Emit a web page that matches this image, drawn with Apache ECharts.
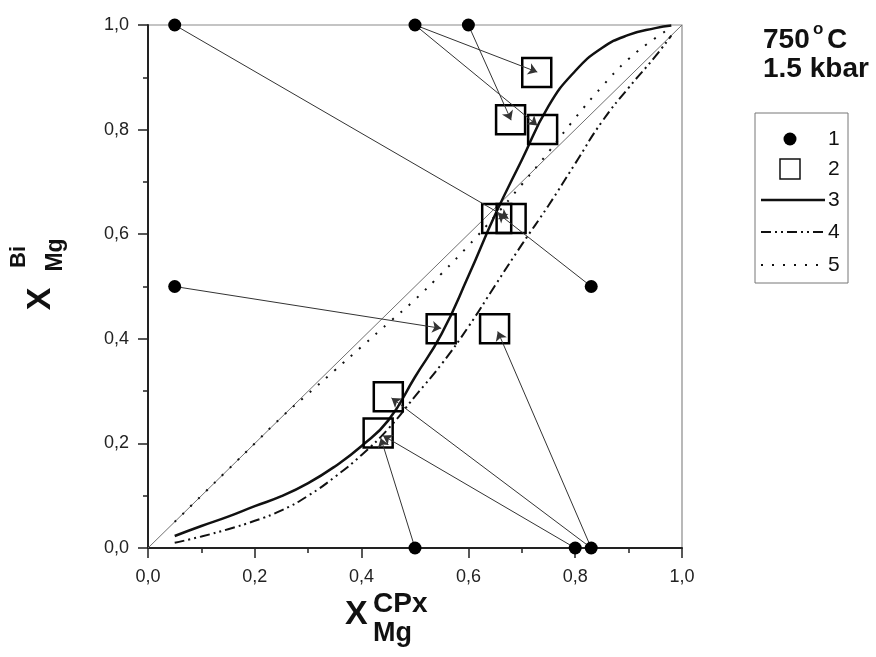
<!DOCTYPE html>
<html>
<head>
<meta charset="utf-8">
<script src="https://cdn.jsdelivr.net/npm/echarts@6/dist/echarts.min.js"></script>
<style>
html, body { margin: 0; padding: 0; background: #fff; }
#chart { width: 876px; height: 657px; }
</style>
</head>
<body>
<div id="chart"></div>
<script>
// measured points (1)
var pointX = [0.05, 0.5, 0.6, 0.05, 0.83, 0.5, 0.8, 0.83];
var pointY = [1.0, 1.0, 1.0, 0.5, 0.5, 0.0, 0.0, 0.0];
// calculated points (2)
var boxX = [0.728, 0.679, 0.739, 0.653, 0.68, 0.549, 0.649, 0.45, 0.431];
var boxY = [0.909, 0.819, 0.80, 0.63, 0.63, 0.419, 0.419, 0.289, 0.22];
// arrows: start = index in points, tip
var arrowFrom = [0, 1, 1, 2, 4, 3, 7, 5, 7, 6];
var arrowTipX = [0.675, 0.729, 0.729, 0.68, 0.655, 0.549, 0.655, 0.436, 0.456, 0.44];
var arrowTipY = [0.63, 0.91, 0.808, 0.818, 0.64, 0.42, 0.414, 0.21, 0.287, 0.215];
// curves 3, 4, 5
var curveX = [0.05, 0.1, 0.15, 0.2, 0.25, 0.3, 0.35, 0.4, 0.45, 0.5, 0.55, 0.6, 0.65, 0.7, 0.75, 0.8, 0.85, 0.9, 0.95, 0.98];
var curve3 = [0.023, 0.042, 0.060, 0.080, 0.099, 0.124, 0.156, 0.195, 0.244, 0.327, 0.41, 0.52, 0.637, 0.742, 0.845, 0.912, 0.956, 0.981, 0.994, 0.999];
var curve4 = [0.01, 0.022, 0.036, 0.052, 0.072, 0.1, 0.136, 0.178, 0.228, 0.29, 0.352, 0.423, 0.502, 0.58, 0.655, 0.735, 0.815, 0.88, 0.94, 0.98];
var curve5 = [0.05, 0.1, 0.15, 0.2, 0.25, 0.295, 0.34, 0.385, 0.43, 0.475, 0.525, 0.578, 0.635, 0.695, 0.757, 0.822, 0.882, 0.935, 0.975, 0.995];
var tickValues = [0, 0.2, 0.4, 0.6, 0.8, 1.0];
var tickLabels = ['0,0', '0,2', '0,4', '0,6', '0,8', '1,0'];

var FONT = '"Liberation Sans", Arial, sans-serif';
var DASH_DOT_DOT = [10, 4, 2, 4, 2, 4];
var DOTS = [2, 9];

function zip(xs, ys) {
    return xs.map(function (x, i) { return [x, ys[i]]; });
}
function tickLabel(v) {
    for (var i = 0; i < tickValues.length; i++) {
        if (Math.abs(tickValues[i] - v) < 1e-6) return tickLabels[i];
    }
    return '';
}
function txt(x, y, text, size, bold, align, rot) {
    return {
        type: 'text', x: x, y: y, rotation: rot || 0,
        style: {
            text: text, fill: '#111',
            font: (bold ? 'bold ' : '') + size + 'px ' + FONT,
            align: align || 'left', verticalAlign: 'middle',
            textAlign: align || 'left', textVerticalAlign: 'middle'
        }
    };
}

var arrowData = arrowFrom.map(function (p, i) {
    return [{coord: [pointX[p], pointY[p]]}, {coord: [arrowTipX[i], arrowTipY[i]]}];
});

var axisCommon = {
    type: 'value',
    min: 0,
    max: 1,
    interval: 0.2,
    axisLine: {lineStyle: {color: '#222', width: 2}},
    axisTick: {inside: false, length: 10, lineStyle: {color: '#222', width: 1.5}},
    minorTick: {show: true, splitNumber: 2, length: 5, lineStyle: {color: '#222', width: 1.5}},
    splitLine: {show: false},
    minorSplitLine: {show: false}
};

var chart = echarts.init(document.getElementById('chart'));
var option = {
    animation: false,
    backgroundColor: '#fff',
    grid: {
        left: 148, right: 194, top: 25, bottom: 109,
        show: true, borderColor: '#8a8a8a', borderWidth: 1.2
    },
    xAxis: Object.assign({}, axisCommon, {
        axisLabel: {formatter: tickLabel, fontSize: 18, color: '#222', fontFamily: FONT, margin: 20}
    }),
    yAxis: Object.assign({}, axisCommon, {
        axisLabel: {formatter: tickLabel, fontSize: 18, color: '#222', fontFamily: FONT, margin: 19}
    }),
    series: [
        {
            // diagonal y = x
            type: 'line', data: [[0, 0], [1, 1]], symbol: 'none', silent: true,
            lineStyle: {color: '#707070', width: 1}, z: 1
        },
        {
            type: 'line', data: zip(curveX, curve5), symbol: 'none', smooth: true, silent: true,
            lineStyle: {color: '#111', width: 2, type: DOTS}, z: 2
        },
        {
            type: 'line', data: zip(curveX, curve4), symbol: 'none', smooth: true, silent: true,
            lineStyle: {color: '#111', width: 2, type: DASH_DOT_DOT}, z: 2
        },
        {
            type: 'line', data: zip(curveX, curve3), symbol: 'none', smooth: true, silent: true,
            lineStyle: {color: '#111', width: 2.5}, z: 3
        },
        {
            type: 'scatter', data: zip(boxX, boxY), symbol: 'rect', symbolSize: 29, clip: false, silent: true,
            itemStyle: {color: 'rgba(0,0,0,0)', borderColor: '#000', borderWidth: 2.5, opacity: 1}, z: 4
        },
        {
            type: 'scatter', data: zip(pointX, pointY), symbol: 'circle', symbolSize: 13, clip: false, silent: true,
            itemStyle: {color: '#000', opacity: 1}, z: 5,
            markLine: {
                silent: true,
                symbol: ['none', 'arrow'],
                symbolSize: 9,
                label: {show: false},
                lineStyle: {color: '#333', width: 1, type: 'solid', opacity: 1},
                data: arrowData
            }
        }
    ],
    graphic: [
        // title
        txt(763, 40, '750', 28, true),
        txt(813, 29, 'o', 17, true),
        txt(827, 40, 'C', 28, true),
        txt(763, 69, '1.5 kbar', 28, true),
        // y axis name
        txt(41, 299, 'X', 34, true, 'center', Math.PI / 2),
        txt(19, 257, 'Bi', 22, true, 'center', Math.PI / 2),
        txt(56, 255, 'Mg', 23, true, 'center', Math.PI / 2),
        // x axis name
        txt(345, 615, 'X', 34, true),
        txt(373, 604, 'CPx', 28, true),
        txt(373, 634, 'Mg', 27, true),
        // legend
        {type: 'rect', shape: {x: 755, y: 113, width: 93, height: 170},
            style: {fill: '#fff', stroke: '#777', lineWidth: 1}},
        {type: 'circle', shape: {cx: 790, cy: 139, r: 6.5}, style: {fill: '#000'}},
        {type: 'rect', shape: {x: 780, y: 159, width: 20, height: 20},
            style: {fill: 'none', stroke: '#111', lineWidth: 1.5}},
        {type: 'line', shape: {x1: 761, y1: 200, x2: 825, y2: 200},
            style: {stroke: '#111', lineWidth: 2.5}},
        {type: 'line', shape: {x1: 761, y1: 232, x2: 825, y2: 232},
            style: {stroke: '#111', lineWidth: 2, lineDash: DASH_DOT_DOT}},
        {type: 'line', shape: {x1: 761, y1: 265, x2: 825, y2: 265},
            style: {stroke: '#111', lineWidth: 2, lineDash: DOTS}},
        txt(828, 139, '1', 21, false),
        txt(828, 169, '2', 21, false),
        txt(828, 200, '3', 21, false),
        txt(828, 232, '4', 21, false),
        txt(828, 265, '5', 21, false)
    ]
};
chart.setOption(option, true);
</script>
</body>
</html>
